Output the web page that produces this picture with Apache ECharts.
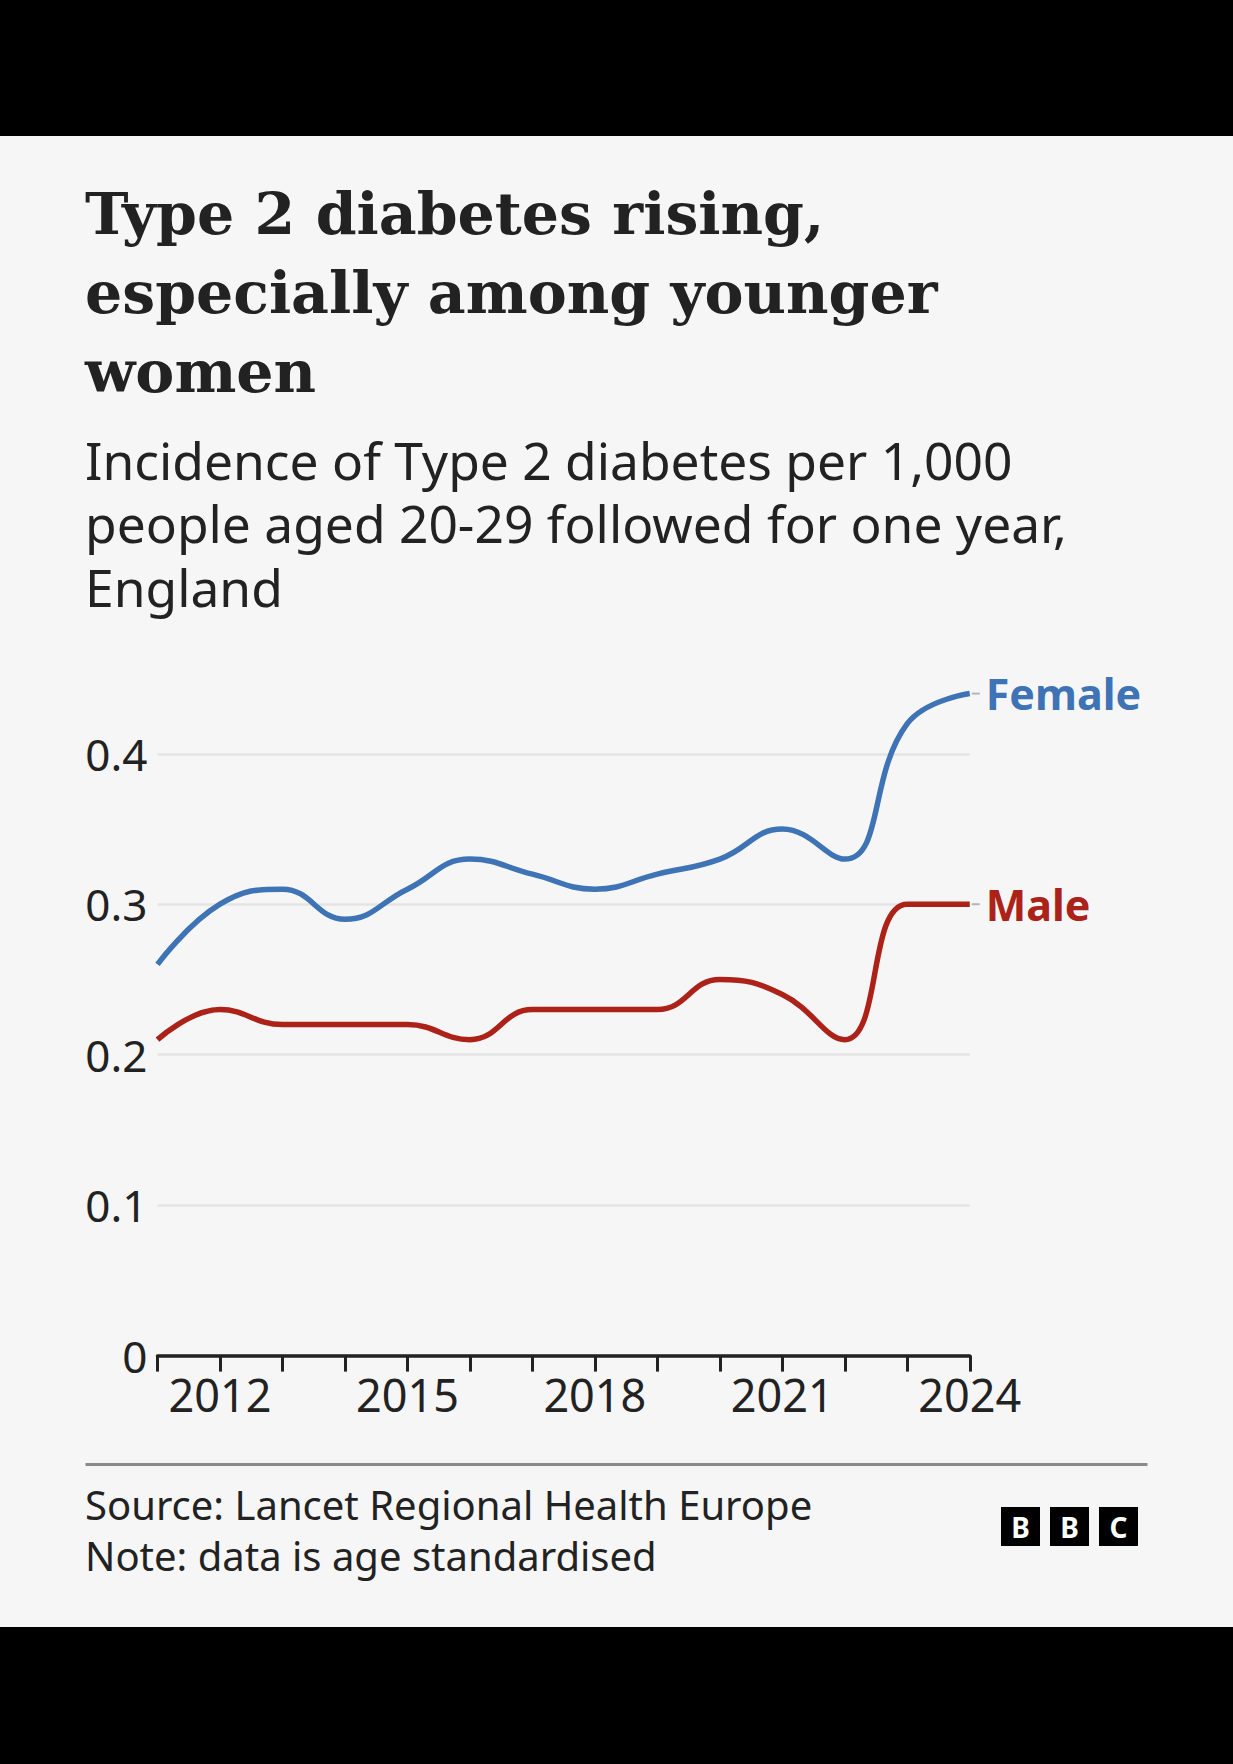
<!DOCTYPE html>
<html>
<head>
<meta charset="utf-8">
<title>Type 2 diabetes rising</title>
<script src="https://cdn.jsdelivr.net/npm/echarts@6/dist/echarts.min.js"></script>
<style>
  html, body { margin: 0; padding: 0; background: #000; }
  #chart { position: absolute; left: 0; top: 136px; width: 1233px; height: 1491px; }
</style>
</head>
<body>
<div id="chart"></div>
<script>
// data
var years = ["2011", "2012", "2013", "2014", "2015", "2016", "2017",
             "2018", "2019", "2020", "2021", "2022", "2023", "2024"];
var female = [0.26, 0.30, 0.31, 0.29, 0.31, 0.33, 0.32, 0.31, 0.32, 0.33, 0.35, 0.33, 0.42, 0.44];
var male = [0.21, 0.23, 0.22, 0.22, 0.22, 0.21, 0.23, 0.23, 0.23, 0.25, 0.24, 0.21, 0.30, 0.30];
var yearLabels = ["2012", "2015", "2018", "2021", "2024"];
var yTicks = [0, 0.1, 0.2, 0.3, 0.4];

var titleLines = ["Type 2 diabetes rising,", "especially among younger", "women"];
var subLines = ["Incidence of Type 2 diabetes per 1,000",
                "people aged 20-29 followed for one year,", "England"];
var footLines = ["Source: Lancet Regional Health Europe", "Note: data is age standardised"];

var ink = "#222222";
var sans = "'Noto Sans', sans-serif";

var chart = echarts.init(document.getElementById("chart"), null, { renderer: "svg" });

// one title component per text line so each line keeps its own box
function textBlock(lines, top, step, style) {
  return lines.map(function (t, i) {
    return {
      text: t,
      left: 85,
      top: top + i * step,
      padding: 0,
      textStyle: Object.assign({ color: ink, lineHeight: step }, style)
    };
  });
}

function lineSeries(name, values, color) {
  return {
    name: name,
    type: "line",
    data: values,
    smooth: 0.45,
    symbol: "none",
    lineStyle: { color: color, width: 5.5 },
    endLabel: {
      show: true,
      formatter: "{d|}{n|{a}}",
      distance: 2,
      rich: {
        d: { width: 8, height: 2, backgroundColor: "#b5b5b5" },
        n: { color: color, fontSize: 43, fontWeight: "bold", fontFamily: sans, padding: [0, 0, 0, 6] }
      }
    },
    emphasis: { disabled: true }
  };
}

var option = {
  backgroundColor: "#f6f6f6",
  animation: false,
  title: [].concat(
    textBlock(titleLines, 38, 79, { fontFamily: "'DejaVu Serif', serif", fontWeight: "bold", fontSize: 58.5 }),
    textBlock(subLines, 292, 63.5, { fontFamily: sans, fontWeight: "normal", fontSize: 51.5 }),
    textBlock(footLines, 1343, 51, { fontFamily: sans, fontWeight: "normal", fontSize: 40 })
  ),
  grid: { left: 157.5, right: 263.25, top: 467.3, bottom: 271.4 },
  xAxis: {
    type: "category",
    data: years,
    boundaryGap: false,
    axisLine: { lineStyle: { color: ink, width: 3.5 } },
    axisTick: { show: true, interval: 0, length: 16, lineStyle: { color: ink, width: 3 } },
    axisLabel: {
      interval: function (i, v) { return yearLabels.indexOf(v) >= 0; },
      color: ink,
      fontFamily: sans,
      fontSize: 45,
      margin: 16
    },
    splitLine: { show: false }
  },
  yAxis: {
    type: "value",
    min: 0,
    max: 0.5,
    interval: 0.1,
    axisLine: { show: false },
    axisTick: { show: false },
    axisLabel: {
      showMaxLabel: false,
      color: ink,
      fontFamily: sans,
      fontSize: 44,
      margin: 10,
      formatter: function (v) {
        var t = yTicks.filter(function (k) { return Math.abs(k - v) < 1e-9; });
        return t.length ? String(t[0]) : "";
      }
    },
    splitLine: { show: true, showMaxLine: false, lineStyle: { color: "#e4e4e4", width: 2.5 } }
  },
  series: [
    lineSeries("Female", female, "#3e73b5"),
    lineSeries("Male", male, "#ad2218")
  ],
  graphic: [
    // footer rule
    { type: "rect", shape: { x: 85.5, y: 1327, width: 1062, height: 3 }, style: { fill: "#8a8a8a" } },
    // BBC blocks
    { type: "group", left: 1001, top: 1371, children: [
      { type: "rect", shape: { x: 0, y: 0, width: 39, height: 39 }, style: { fill: "#000" } },
      { type: "text", x: 19.5, y: 20, style: { text: "B", fill: "#fff", font: "bold 28px 'Noto Sans'", align: "center", verticalAlign: "middle" } },
      { type: "rect", shape: { x: 49, y: 0, width: 39, height: 39 }, style: { fill: "#000" } },
      { type: "text", x: 68.5, y: 20, style: { text: "B", fill: "#fff", font: "bold 28px 'Noto Sans'", align: "center", verticalAlign: "middle" } },
      { type: "rect", shape: { x: 98, y: 0, width: 39, height: 39 }, style: { fill: "#000" } },
      { type: "text", x: 117.5, y: 20, style: { text: "C", fill: "#fff", font: "bold 28px 'Noto Sans'", align: "center", verticalAlign: "middle" } }
    ] }
  ]
};

chart.setOption(option);
</script>
</body>
</html>
